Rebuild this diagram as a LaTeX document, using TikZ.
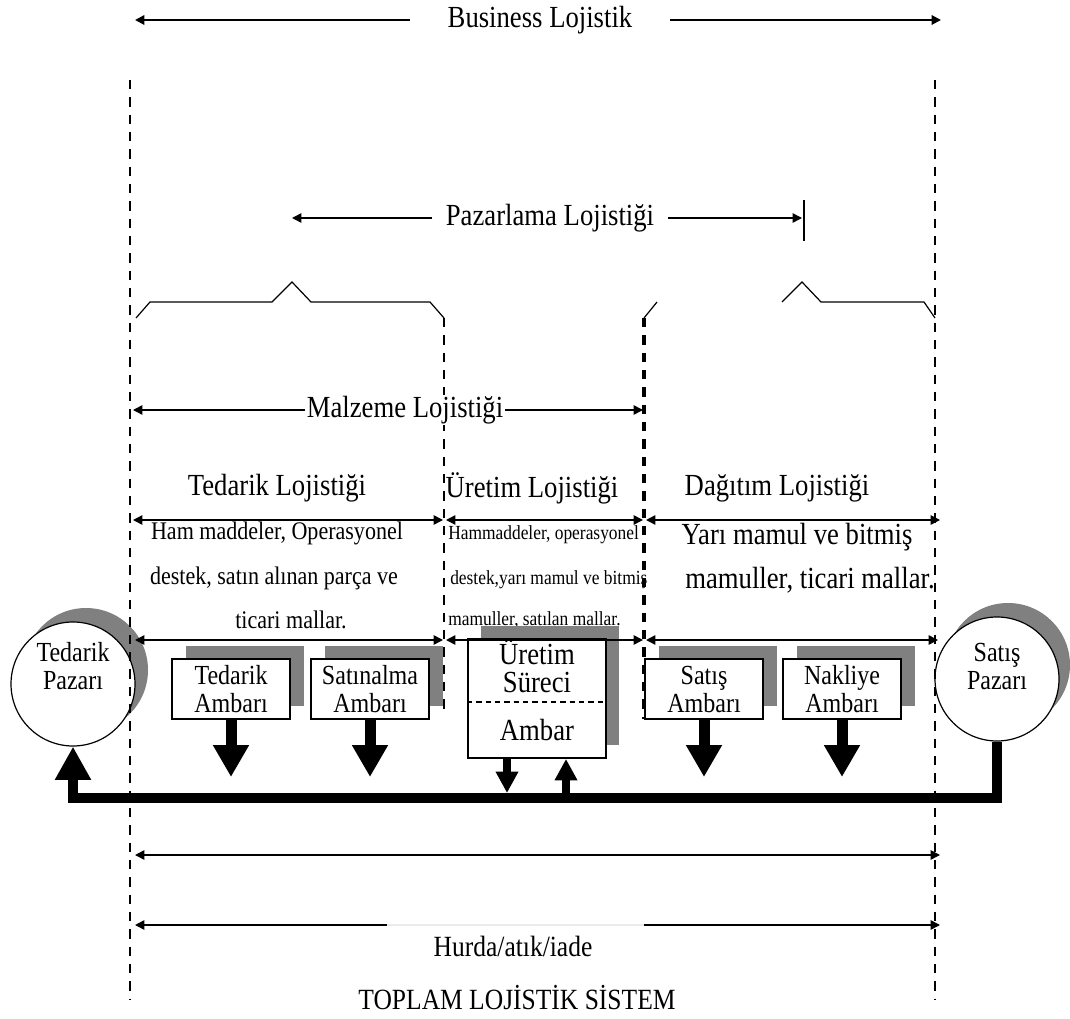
\documentclass[tikz,border=0pt]{standalone}
\usepackage{fontspec}
\setmainfont{Liberation Serif}[FakeStretch=0.87]
\usetikzlibrary{arrows.meta,calc}
\definecolor{shade}{RGB}{128,128,128}
\begin{document}
\begin{tikzpicture}[x=0.75pt,y=-0.75pt,
  hd/.tip={Triangle[length=7pt,width=7pt]},
  guide/.style={line width=1.1pt, dash pattern=on 7pt off 6pt},
  spanline/.style={line width=1.1pt},
  bracket/.style={line width=0.9pt},
  heading/.style={inner sep=0pt, font=\fontsize{23}{27}\selectfont},
  sidetext/.style={inner sep=0pt, font=\fontsize{19}{22}\selectfont},
  midtext/.style={inner sep=0pt, anchor=west, font=\fontsize{15}{18}\selectfont},
  bigtext/.style={inner sep=0pt, font=\fontsize{23}{27}\selectfont},
  foot/.style={inner sep=0pt, font=\fontsize{22}{26}\selectfont},
  store/.style={draw, line width=1.4pt, fill=white, minimum width=88.5pt, minimum height=45pt,
                align=center, inner sep=0pt, font=\fontsize{20.7}{21}\selectfont},
  storeshadow/.style={fill=shade, minimum width=88.5pt, minimum height=45pt, inner sep=0pt},
  market/.style={circle, draw, line width=0.9pt, fill=white, minimum size=93pt, inner sep=0pt},
  marketshadow/.style={circle, fill=shade, minimum size=93pt, inner sep=0pt},
  markettext/.style={align=center, inner sep=0pt, font=\fontsize{20.7}{21}\selectfont},
  flow/.style={line width=8.25pt, -{Triangle[length=24pt,width=25.5pt]}},
  minorflow/.style={line width=6pt, -{Triangle[length=16pt,width=16pt]}},
  returnline/.style={line width=7.5pt, line join=miter, -{Triangle[length=25pt,width=25.5pt]}},
]
\useasboundingbox (0,0) rectangle (1070,1019);

% ---------- texts of the upper part ----------
\node[heading, inner xsep=28pt] (biz) at (540,20) {Business Lojistik};
\node[heading, inner xsep=10pt] (paz) at (550,218) {Pazarlama Lojistiği};
\node[heading] (tedLoj) at (277,488) {Tedarik Lojistiği};
\node[heading] (uretLoj) at (532,488) {Üretim Lojistiği};
\node[heading] (dagLoj) at (777,488) {Dağıtım Lojistiği};

\node[sidetext] (ham1) at (277,533) {Ham maddeler, Operasyonel};
\node[sidetext] (ham2) at (274,578) {destek, satın alınan parça ve};
\node[sidetext] (ham3) at (291,620) {ticari mallar.};

\node[midtext] (mid1) at (448,535) {Hammaddeler, operasyonel};
\node[midtext] (mid2) at (450,580) {destek,yarı mamul ve bitmiş};
\node[midtext] (mid3) at (448,620) {mamuller, satılan mallar.};

\node[bigtext] (yar1) at (797,537) {Yarı mamul ve bitmiş};
\node[bigtext] (yar2) at (810,580) {mamuller, ticari mallar.};

% ---------- shadows ----------
\node[marketshadow] (tedPshadow) at (86,670) {};
\node[marketshadow] (satPshadow) at (1008,665) {};
\node[storeshadow] (tedAshadow) at (245,676) {};
\node[storeshadow] (satAshadow) at (384,676) {};
\node[storeshadow, minimum width=103.5pt, minimum height=89.25pt] (uretShadow) at (550,685.5) {};
\node[storeshadow] (satisAshadow) at (718,676) {};
\node[storeshadow] (nakAshadow) at (856,676) {};

% ---------- markets ----------
\node[market] (tedP) at (73,684) {};
\node[markettext] (tedPtext) at (73,666) {Tedarik\\Pazarı};
\node[market] (satP) at (997,679) {};
\node[markettext] (satPtext) at (997,666) {Satış\\Pazarı};

% ---------- stores ----------
\node[store] (tedA) at (231,689) {Tedarik\\Ambarı};
\node[store] (satA) at (370,689) {Satınalma\\Ambarı};
\node[store] (satisA) at (704,689) {Satış\\Ambarı};
\node[store] (nakA) at (842,689) {Nakliye\\Ambarı};

\node[draw, line width=1.4pt, fill=white, minimum width=103.5pt, minimum height=89.25pt, inner sep=0pt]
  (uret) at (537,698.5) {};
\draw[line width=1pt, dash pattern=on 4pt off 3pt]
  ($(uret.west)+(0,3.5)$) -- ($(uret.east)+(0,3.5)$);
\node[markettext, font=\fontsize{23}{21}\selectfont] (uretText) at (537,666) {Üretim\\Süreci};
\node[markettext, font=\fontsize{23}{24}\selectfont] (ambText) at (537,730) {Ambar};

% ---------- guide lines ----------
\coordinate (gLt) at (130,80);   \coordinate (gLb) at (130,1000);
\coordinate (gRt) at (935,80);   \coordinate (gRb) at (935,1000);
\coordinate (m1t) at (444,318);  \coordinate (m1b) at (444,712);
\coordinate (m2t) at (644,318);  \coordinate (m2b) at (644,719);
\draw[guide] (gLt) -- (gLb);
\draw[guide] (gRt) -- (gRb);
\draw[guide, line width=1.6pt] (m1t) -- (m1b);
\draw[guide, line width=2.3pt] (m2t) -- (m2b);

% ---------- span arrows ----------
\coordinate (bizL) at (135,20);  \coordinate (bizR) at (941,20);
\draw[line width=1.5pt, -hd] (biz.west) -- (bizL);
\draw[line width=1.5pt, -hd] (biz.east) -- (bizR);

\coordinate (pazL) at (292,218); \coordinate (pazR) at (802,218);
\coordinate (tickT) at (804,200); \coordinate (tickB) at (804,241);
\draw[spanline, -hd] (paz.west) -- (pazL);
\draw[spanline, -hd] (paz.east) -- (pazR);
\draw[bracket] (tickT) -- (tickB);

% brackets
\draw[bracket] (136,318) -- (150,302) -- (272,302) -- (292,282) -- (311,302)
  -- (430,302) -- (m1t);
\draw[bracket] (m2t) -- (657,302);
\draw[bracket] (782,302) -- (802,282) -- (821,302) -- (924,302) -- (935,318);

\node[heading, fill=white, inner xsep=1.5pt, inner ysep=1pt] (malz) at (405,410) {Malzeme Lojistiği};
\coordinate (malzL) at (133,410); \coordinate (malzR) at (643,410);
\draw[spanline, -hd] (malz.west) -- (malzL);
\draw[spanline, -hd] (malz.east) -- (malzR);

\coordinate (a1) at (133,520); \coordinate (a2) at (443,520);
\coordinate (a3) at (446,520); \coordinate (a4) at (643,520);
\coordinate (a5) at (646,520); \coordinate (a6) at (940,520);
\draw[spanline, hd-hd] (a1) -- (a2);
\draw[spanline, hd-hd] (a3) -- (a4);
\draw[spanline, hd-hd] (a5) -- (a6);

\coordinate (b1) at (135,640); \coordinate (b2) at (443,640);
\coordinate (b3) at (446,640); \coordinate (b4) at (643,640);
\coordinate (b5) at (646,640); \coordinate (b6) at (938,640);
\draw[spanline, hd-hd] (b1) -- (b2);
\draw[spanline, hd-hd] (b3) -- (b4);
\draw[spanline, hd-hd] (b5) -- (b6);

% ---------- material flows ----------
\coordinate (tedAtip) at (231,777);
\coordinate (satAtip) at (370,777);
\coordinate (satisAtip) at (704,777);
\coordinate (nakAtip) at (842,777);
\draw[flow] (tedA.south) -- (tedAtip);
\draw[flow] (satA.south) -- (satAtip);
\draw[flow] (satisA.south) -- (satisAtip);
\draw[flow] (nakA.south) -- (nakAtip);

\coordinate (uretDown) at (507,793);
\coordinate (uretUp) at (566,793);
\draw[minorflow] ($(uret.south)+(-30,0)$) -- (uretDown);
\draw[minorflow] (uretUp) -- ($(uret.south)+(29,0)$);

\coordinate (fbMid) at (500,798);
\draw[returnline] (satP.south) |- (fbMid) -| (tedP.south);

% ---------- lower spans ----------
\coordinate (c1) at (135,855); \coordinate (c2) at (940,855);
\draw[spanline, hd-hd] (c1) -- (c2);

\coordinate (hL) at (135,925); \coordinate (hA) at (387,925);
\coordinate (hB) at (644,925); \coordinate (hR) at (940,925);
\draw[spanline, hd-] (hL) -- (hA);
\draw[line width=0.8pt, black!8] (hA) -- (hB);
\draw[spanline, -hd] (hB) -- (hR);

\node[foot] (hurda) at (513,946) {Hurda/atık/iade};
\node[foot] (toplam) at (517,998) {TOPLAM LOJİSTİK SİSTEM};
\end{tikzpicture}
\end{document}
